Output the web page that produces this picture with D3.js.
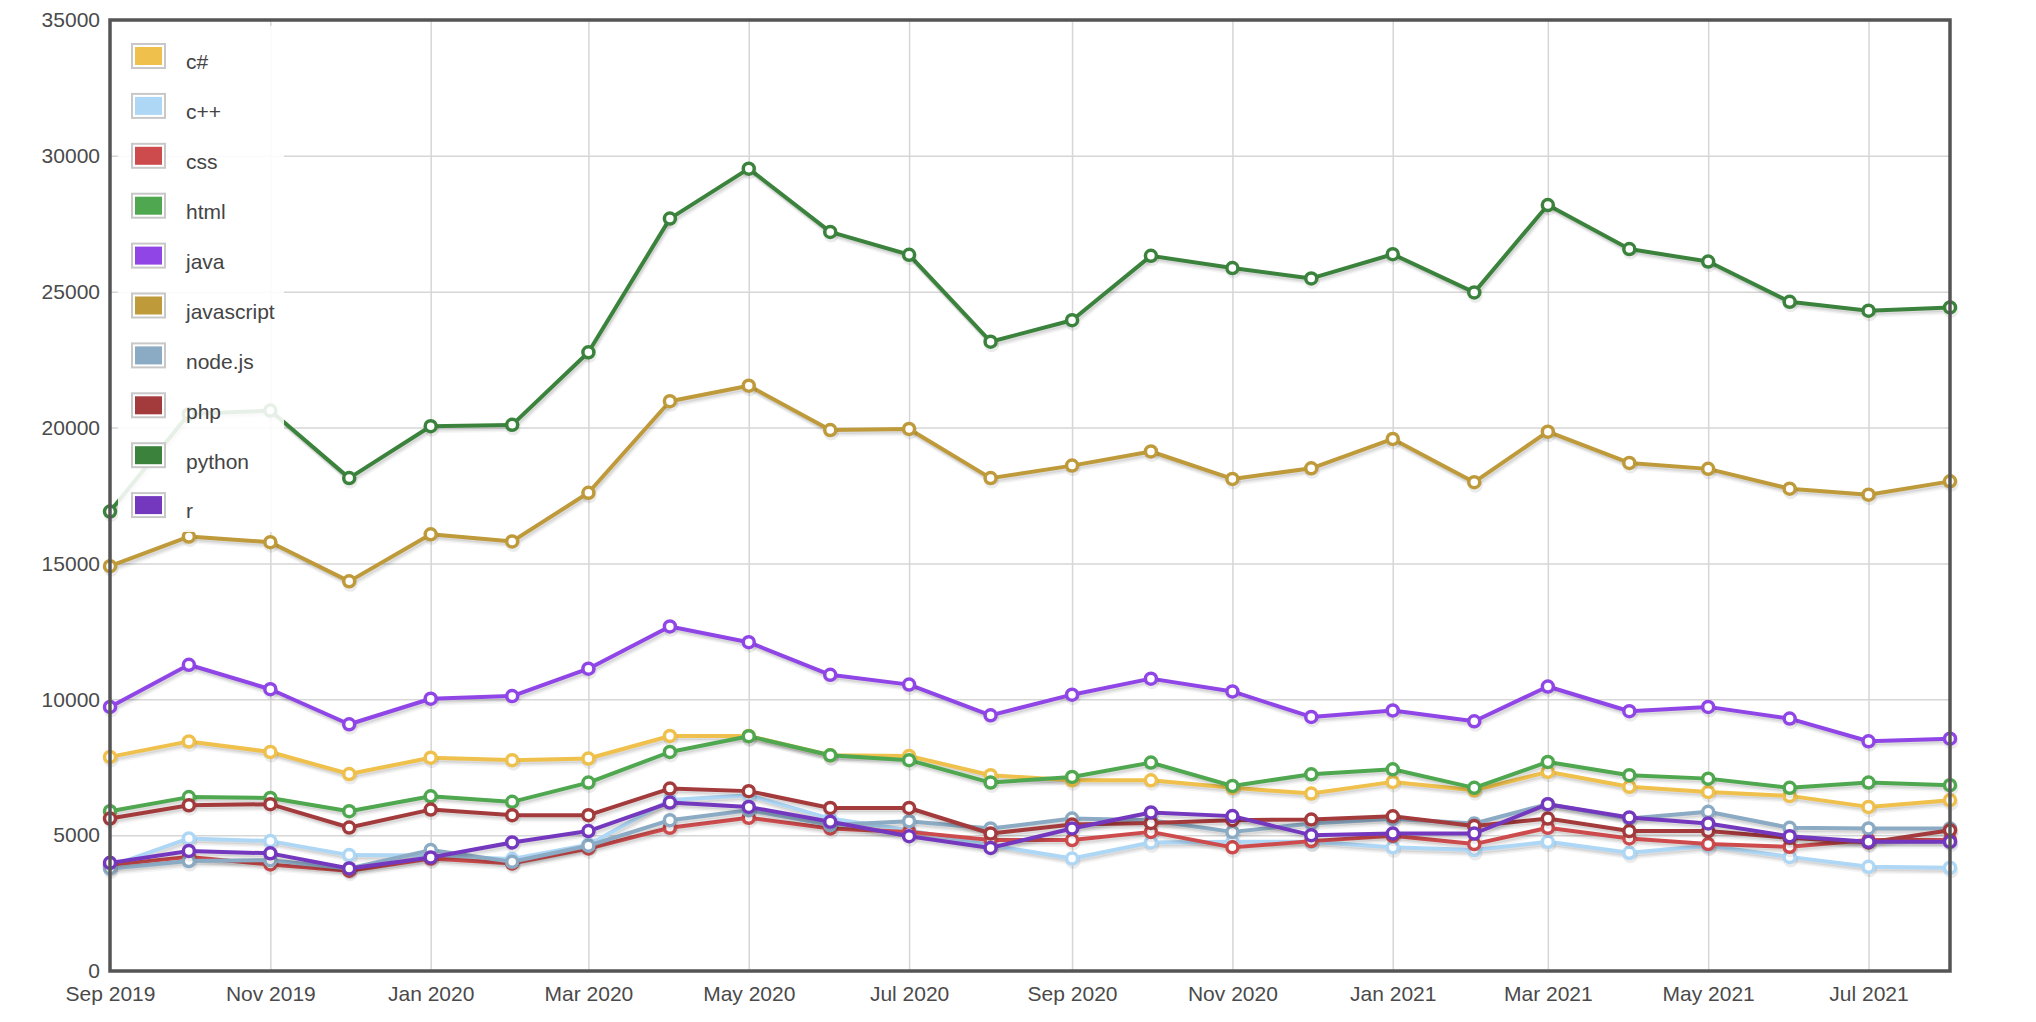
<!DOCTYPE html>
<html>
<head>
<meta charset="utf-8">
<script src="https://cdn.jsdelivr.net/npm/d3@7"></script>
<style>
  body { margin: 0; background: #fff; }
  text { font-family: "Liberation Sans", Arial, sans-serif; }
</style>
</head>
<body>
<div id="chart"></div>
<script>
const months = [
  '2019-09', '2019-10', '2019-11', '2019-12',
  '2020-01', '2020-02', '2020-03', '2020-04', '2020-05', '2020-06',
  '2020-07', '2020-08', '2020-09', '2020-10', '2020-11', '2020-12',
  '2021-01', '2021-02', '2021-03', '2021-04', '2021-05', '2021-06',
  '2021-07', '2021-08'
];

const languages = ['c#', 'c++', 'css', 'html', 'java', 'javascript', 'node.js', 'php', 'python', 'r'];
const colors = ['#efc04b', '#aed7f6', '#cd4b4c', '#4fa74f', '#9046e7', '#bf9a3a', '#8baac3', '#a33a3c', '#3b833d', '#7438bf'];

const csharp = [7880, 8450, 8060, 7250, 7850, 7760, 7820, 8650, 8650, 7940, 7915, 7205, 7020, 7020, 6740, 6530, 6960, 6650, 7330, 6780, 6590, 6445, 6040, 6285];
const cpp = [3850, 4880, 4780, 4265, 4250, 4120, 4650, 6290, 6470, 5610, 5180, 4630, 4140, 4730, 4755, 4755, 4550, 4450, 4755, 4350, 4610, 4200, 3835, 3800];
const css = [3900, 4200, 3920, 3690, 4140, 3960, 4510, 5270, 5640, 5245, 5120, 4820, 4820, 5120, 4550, 4780, 4975, 4670, 5270, 4880, 4670, 4570, 4820, 4820];
const html = [5880, 6400, 6370, 5880, 6430, 6225, 6935, 8060, 8640, 7940, 7760, 6935, 7140, 7670, 6810, 7240, 7425, 6740, 7695, 7205, 7080, 6740, 6935, 6840];
const java = [9720, 11270, 10370, 9080, 10020, 10120, 11125, 12680, 12100, 10900, 10540, 9410, 10170, 10760, 10290, 9350, 9590, 9190, 10470, 9560, 9720, 9290, 8455, 8550];
const javascript = [14900, 15990, 15780, 14340, 16070, 15810, 17600, 20970, 21540, 19910, 19950, 18140, 18600, 19120, 18110, 18500, 19580, 17990, 19850, 18700, 18480, 17750, 17530, 18020];
const nodejs = [3775, 4045, 4080, 3775, 4450, 4020, 4610, 5550, 5920, 5370, 5515, 5245, 5610, 5550, 5120, 5430, 5600, 5430, 6140, 5610, 5860, 5270, 5245, 5245];
const php = [5610, 6100, 6140, 5280, 5940, 5735, 5735, 6715, 6620, 6000, 6000, 5060, 5390, 5450, 5550, 5575, 5695, 5340, 5610, 5150, 5150, 4900, 4730, 5180];
const python = [16910, 20500, 20625, 18140, 20050, 20100, 22770, 27690, 29530, 27200, 26360, 23160, 23950, 26320, 25870, 25490, 26380, 24975, 28190, 26570, 26110, 24630, 24300, 24420];
const r = [3980, 4420, 4330, 3775, 4180, 4730, 5150, 6200, 6040, 5490, 4960, 4530, 5245, 5835, 5700, 5000, 5060, 5060, 6140, 5650, 5430, 4960, 4755, 4755];

const yTicks = [0, 5000, 10000, 15000, 20000, 25000, 30000, 35000];

const seriesValues = [csharp, cpp, css, html, java, javascript, nodejs, php, python, r];
const parseMonth = d3.timeParse('%Y-%m');
const dates = months.map(parseMonth);

const series = languages.map((name, i) => ({
  name,
  color: colors[i],
  points: seriesValues[i].map((v, j) => ({ date: dates[j], value: v }))
}));

const width = 2036;
const height = 1022;
const margin = { top: 20, right: 86, bottom: 51, left: 110 };

const svg = d3.select('#chart')
  .append('svg')
  .attr('width', width)
  .attr('height', height);

const xScale = d3.scaleTime()
  .domain([dates[0], dates[dates.length - 1]])
  .range([margin.left, width - margin.right]);

const yScale = d3.scaleLinear()
  .domain([0, 35000])
  .range([height - margin.bottom, margin.top]);

const plotW = width - margin.left - margin.right;
const plotH = height - margin.top - margin.bottom;

// gridlines
svg.append('g')
  .attr('class', 'ygrid')
  .attr('transform', `translate(${margin.left},0)`)
  .call(d3.axisLeft(yScale).tickValues(yTicks).tickSize(-plotW).tickFormat(''))
  .call(g => g.select('.domain').remove())
  .call(g => g.selectAll('line').attr('stroke', '#d6d6d6').attr('stroke-width', 1.5));

svg.append('g')
  .attr('class', 'xgrid')
  .attr('transform', `translate(0,${height - margin.bottom})`)
  .call(d3.axisBottom(xScale).ticks(d3.timeMonth.every(2)).tickSize(-plotH).tickFormat(''))
  .call(g => g.select('.domain').remove())
  .call(g => g.selectAll('line').attr('stroke', '#d6d6d6').attr('stroke-width', 1.5));

// lines
const line = d3.line()
  .x(d => xScale(d.date))
  .y(d => yScale(d.value));

series.forEach(s => {
  const g = svg.append('g').attr('class', 'series');

  // soft shadow under each line
  [[1, 2, 0.08], [1.5, 3.5, 0.06], [2, 5, 0.04]].forEach(([dx, dy, op]) => {
    g.append('path')
      .datum(s.points)
      .attr('transform', `translate(${dx},${dy})`)
      .attr('fill', 'none')
      .attr('stroke', '#000')
      .attr('stroke-opacity', op)
      .attr('stroke-width', 4)
      .attr('stroke-linejoin', 'round')
      .attr('d', line);
  });

  g.append('path')
    .datum(s.points)
    .attr('fill', 'none')
    .attr('stroke', s.color)
    .attr('stroke-width', 4)
    .attr('stroke-linejoin', 'round')
    .attr('d', line);

  g.selectAll('circle.shadow')
    .data(s.points)
    .join('circle')
    .attr('class', 'shadow')
    .attr('cx', d => xScale(d.date) + 1)
    .attr('cy', d => yScale(d.value) + 3)
    .attr('r', 7.5)
    .attr('fill', '#000')
    .attr('fill-opacity', 0.08);

  g.selectAll('circle.dot')
    .data(s.points)
    .join('circle')
    .attr('class', 'dot')
    .attr('cx', d => xScale(d.date))
    .attr('cy', d => yScale(d.value))
    .attr('r', 5.5)
    .attr('fill', '#fff')
    .attr('stroke', s.color)
    .attr('stroke-width', 3.5);
});

// frame
svg.append('rect')
  .attr('x', margin.left)
  .attr('y', margin.top)
  .attr('width', plotW)
  .attr('height', plotH)
  .attr('fill', 'none')
  .attr('stroke', '#555')
  .attr('stroke-width', 3.5);

// axis labels
svg.append('g')
  .attr('transform', `translate(${margin.left - 10},0)`)
  .call(d3.axisLeft(yScale).tickValues(yTicks).tickSize(0).tickPadding(0).tickFormat(d3.format('d')))
  .call(g => g.select('.domain').remove())
  .call(g => g.selectAll('text')
    .attr('font-size', 21)
    .attr('fill', '#4a4a4a')
    .style('font-family', '"Liberation Sans", Arial, sans-serif'));

svg.append('g')
  .attr('transform', `translate(0,${height - margin.bottom + 14})`)
  .call(d3.axisBottom(xScale).ticks(d3.timeMonth.every(2)).tickSize(0).tickPadding(0).tickFormat(d3.timeFormat('%b %Y')))
  .call(g => g.select('.domain').remove())
  .call(g => g.selectAll('text')
    .attr('dy', '0.75em')
    .attr('font-size', 21)
    .attr('fill', '#4a4a4a')
    .style('font-family', '"Liberation Sans", Arial, sans-serif'));

// legend
const legend = svg.append('g').attr('class', 'legend');

legend.append('rect')
  .attr('x', 118)
  .attr('y', 26)
  .attr('width', 166)
  .attr('height', 506)
  .attr('fill', '#fff')
  .attr('fill-opacity', 0.88);

const item = legend.selectAll('g.item')
  .data(series)
  .join('g')
  .attr('class', 'item')
  .attr('transform', (d, i) => `translate(131,${43 + i * 49.9})`);

item.append('rect')
  .attr('x', 1)
  .attr('y', 1)
  .attr('width', 33)
  .attr('height', 24)
  .attr('fill', '#fff')
  .attr('stroke', '#c8c8c8')
  .attr('stroke-width', 2);

item.append('rect')
  .attr('x', 4)
  .attr('y', 4)
  .attr('width', 27)
  .attr('height', 18)
  .attr('fill', d => d.color);

item.append('text')
  .attr('x', 55)
  .attr('y', 19)
  .attr('dy', '0.35em')
  .attr('font-size', 21)
  .attr('fill', '#444')
  .text(d => d.name);
</script>
</body>
</html>
